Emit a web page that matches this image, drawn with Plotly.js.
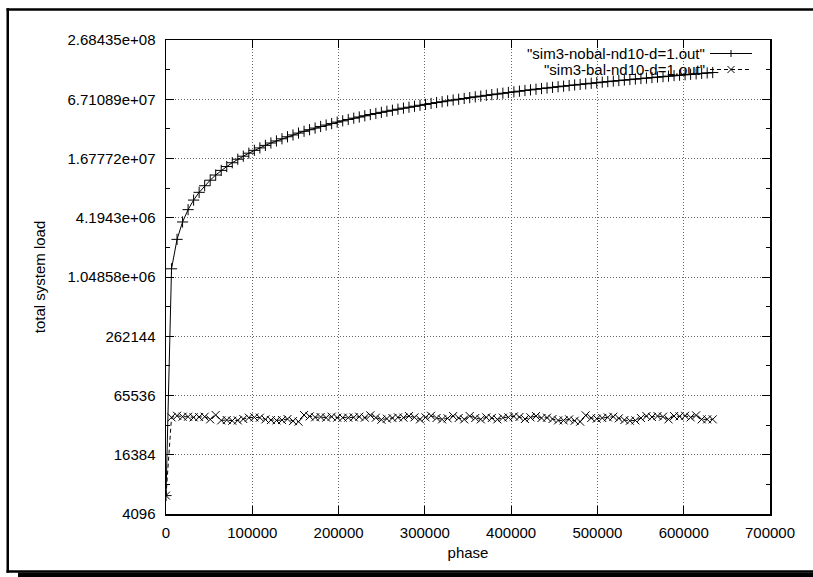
<!DOCTYPE html>
<html>
<head>
<meta charset="utf-8">
<script src="https://cdn.plot.ly/plotly-3.0.1.min.js"></script>
<style>
html,body{margin:0;padding:0;background:#fff;overflow:hidden;}
#chart{width:813px;height:577px;}
</style>
</head>
<body>
<div id="chart"></div>
<script>
// ---- data ----
const phase = [
  0, 6400, 12800, 19200, 25600, 32000, 38400, 44800, 51200, 57600,
  64000, 70400, 76800, 83200, 89600, 96000, 102400, 108800, 115200, 121600,
  128000, 134400, 140800, 147200, 153600, 160000, 166400, 172800, 179200, 185600,
  192000, 198400, 204800, 211200, 217600, 224000, 230400, 236800, 243200, 249600,
  256000, 262400, 268800, 275200, 281600, 288000, 294400, 300800, 307200, 313600,
  320000, 326400, 332800, 339200, 345600, 352000, 358400, 364800, 371200, 377600,
  384000, 390400, 396800, 403200, 409600, 416000, 422400, 428800, 435200, 441600,
  448000, 454400, 460800, 467200, 473600, 480000, 486400, 492800, 499200, 505600,
  512000, 518400, 524800, 531200, 537600, 544000, 550400, 556800, 563200, 569600,
  576000, 582400, 588800, 595200, 601600, 608000, 614400, 620800, 627200, 633600
];

const nobalLoad = [
  6300, 1.27e6, 2.53e6, 3.80e6, 5.07e6, 6.34e6, 7.60e6, 8.87e6, 1.01e7, 1.14e7,
  1.27e7, 1.39e7, 1.52e7, 1.65e7, 1.77e7, 1.90e7, 2.03e7, 2.15e7, 2.28e7, 2.41e7,
  2.53e7, 2.66e7, 2.79e7, 2.91e7, 3.04e7, 3.17e7, 3.29e7, 3.42e7, 3.55e7, 3.67e7,
  3.80e7, 3.93e7, 4.05e7, 4.18e7, 4.31e7, 4.43e7, 4.56e7, 4.69e7, 4.81e7, 4.94e7,
  5.07e7, 5.19e7, 5.32e7, 5.45e7, 5.57e7, 5.70e7, 5.83e7, 5.95e7, 6.08e7, 6.21e7,
  6.33e7, 6.46e7, 6.59e7, 6.71e7, 6.84e7, 6.97e7, 7.10e7, 7.22e7, 7.35e7, 7.48e7,
  7.60e7, 7.73e7, 7.86e7, 7.98e7, 8.11e7, 8.24e7, 8.36e7, 8.49e7, 8.62e7, 8.74e7,
  8.87e7, 9.00e7, 9.12e7, 9.25e7, 9.38e7, 9.50e7, 9.63e7, 9.76e7, 9.88e7, 1.001e8,
  1.014e8, 1.026e8, 1.039e8, 1.052e8, 1.064e8, 1.077e8, 1.090e8, 1.102e8, 1.115e8, 1.128e8,
  1.140e8, 1.153e8, 1.166e8, 1.178e8, 1.191e8, 1.204e8, 1.216e8, 1.229e8, 1.242e8, 1.254e8
];

const balLoad = [
  6300, 39300, 40800, 39900, 39900, 39300, 39600, 39900, 37500, 41500,
  36600, 36900, 36300, 36600, 37800, 39000, 39300, 39000, 37500, 36900,
  36600, 36900, 37800, 36000, 35500, 41500, 40200, 39300, 39600, 39000,
  39900, 39000, 39000, 39000, 39300, 39900, 39000, 41200, 39000, 37200,
  38100, 38700, 39300, 39000, 40500, 39300, 37500, 39300, 40800, 38700,
  37500, 38400, 40500, 38700, 37500, 40500, 38700, 37500, 39300, 38700,
  37500, 39000, 39300, 40200, 39600, 37800, 39300, 40500, 38700, 39000,
  37800, 36600, 36600, 37500, 36300, 35500, 41200, 38700, 38100, 38700,
  39300, 39900, 38400, 36900, 36300, 36600, 38700, 40500, 39600, 40500,
  39900, 37500, 40500, 40200, 40800, 39300, 41200, 37500, 37500, 37500
];

const yTickVals = [4096, 16384, 65536, 262144, 1048576, 4194304, 16777216, 67108864, 268435456];
const yTickText = ["4096", "16384", "65536", "262144", "1.04858e+06", "4.1943e+06", "1.67772e+07", "6.71089e+07", "2.68435e+08"];
const yMinorVals = [8192, 32768, 131072, 524288, 2097152, 8388608, 33554432, 134217728];
const seriesNames = ['"sim3-nobal-nd10-d=1.out"', '"sim3-bal-nd10-d=1.out"'];

// ---- layout geometry (pixels of the 813x577 picture) ----
const W = 813, H = 577;
const L = 166, R = 770, T = 40, B = 514;
const px = p => (p - L) / (R - L);
const py = p => (B - p) / (B - T);

const FONT = {family: '"Liberation Sans", Arial, Helvetica, sans-serif', size: 15, color: '#000'};

const traces = [
  {
    x: phase, y: nobalLoad, name: seriesNames[0], type: 'scatter', mode: 'lines+markers',
    line: {color: '#000', width: 1},
    marker: {symbol: 'cross-thin', size: 8, color: '#000', line: {color: '#000', width: 1}},
    showlegend: false, cliponaxis: true
  },
  {
    x: phase, y: balLoad, name: seriesNames[1], type: 'scatter', mode: 'lines+markers',
    line: {color: '#000', width: 1, dash: '4px,3px'},
    marker: {symbol: 'x-thin', size: 8, color: '#000', line: {color: '#000', width: 1}},
    showlegend: false, cliponaxis: true
  }
];

const shapes = [
  // outer frame
  {type: 'rect', xref: 'paper', yref: 'paper', x0: px(6.5), x1: px(830), y0: py(8.2), y1: py(10.7), fillcolor: '#000', line: {width: 0}},
  {type: 'rect', xref: 'paper', yref: 'paper', x0: px(6.5), x1: px(9), y0: py(8.2), y1: py(572.7), fillcolor: '#000', line: {width: 0}},
  {type: 'rect', xref: 'paper', yref: 'paper', x0: px(6.5), x1: px(830), y0: py(570.3), y1: py(572.7), fillcolor: '#000', line: {width: 0}},
  {type: 'rect', xref: 'paper', yref: 'paper', x0: px(18), x1: px(830), y0: py(572.5), y1: py(580), fillcolor: '#000', line: {width: 0}},
  // legend samples
  {type: 'line', xref: 'paper', yref: 'paper', x0: px(710), x1: px(752), y0: py(53.5), y1: py(53.5), line: {color: '#000', width: 1}},
  {type: 'line', xref: 'paper', yref: 'paper', x0: px(731), x1: px(731), y0: py(50), y1: py(57), line: {color: '#000', width: 1}},
  {type: 'line', xref: 'paper', yref: 'paper', x0: px(710), x1: px(752), y0: py(69.5), y1: py(69.5), line: {color: '#000', width: 1, dash: '4px,3px'}},
  {type: 'line', xref: 'paper', yref: 'paper', x0: px(727.5), x1: px(734.5), y0: py(66), y1: py(73), line: {color: '#000', width: 1}},
  {type: 'line', xref: 'paper', yref: 'paper', x0: px(727.5), x1: px(734.5), y0: py(73), y1: py(66), line: {color: '#000', width: 1}}
];

const annotations = [
  {xref: 'paper', yref: 'paper', x: px(707), y: py(53.5), xanchor: 'right', yanchor: 'middle', text: seriesNames[0], showarrow: false, font: FONT},
  {xref: 'paper', yref: 'paper', x: px(707), y: py(69.5), xanchor: 'right', yanchor: 'middle', text: seriesNames[1], showarrow: false, font: FONT}
];

const layout = {
  width: W, height: H,
  margin: {l: L, r: W - R, t: T, b: H - B, pad: 0},
  paper_bgcolor: '#fff', plot_bgcolor: '#fff',
  font: FONT,
  showlegend: false,
  xaxis: {
    type: 'linear', range: [0, 700000], dtick: 100000, tick0: 0, tickformat: 'd',
    showline: true, linecolor: '#000', linewidth: 1.5, mirror: 'ticks',
    ticks: 'inside', ticklen: 8, tickwidth: 1, tickcolor: '#000',
    showgrid: true, gridcolor: '#666', griddash: '1px,2px', gridwidth: 1,
    zeroline: false, ticklabelstandoff: 4,
    title: {text: 'phase', font: FONT, standoff: 8}
  },
  yaxis: {
    type: 'log', range: [Math.log10(4096), Math.log10(268435456)],
    tickmode: 'array', tickvals: yTickVals, ticktext: yTickText,
    showline: true, linecolor: '#000', linewidth: 1.5, mirror: 'ticks',
    ticks: 'inside', ticklen: 8, tickwidth: 1, tickcolor: '#000',
    showgrid: true, gridcolor: '#666', griddash: '1px,2px', gridwidth: 1,
    zeroline: false, ticklabelstandoff: 6,
    minor: {tickmode: 'array', tickvals: yMinorVals, ticks: 'inside', ticklen: 4, tickcolor: '#000', showgrid: false},
    title: {text: 'total system load', font: FONT, standoff: 18}
  },
  shapes: shapes,
  annotations: annotations
};

Plotly.newPlot('chart', traces, layout, {displayModeBar: false, staticPlot: true});
</script>
</body>
</html>
